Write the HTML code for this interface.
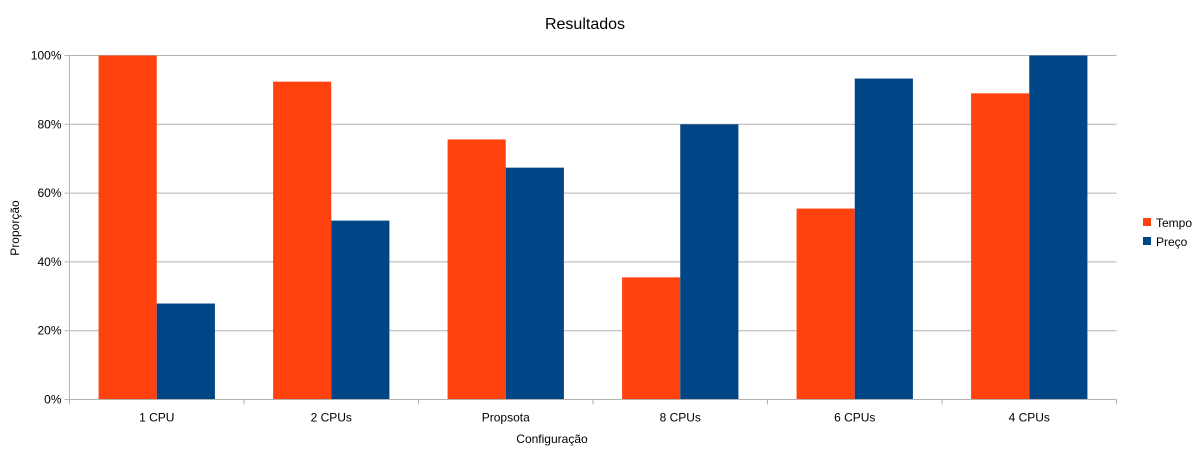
<!DOCTYPE html>
<html><head><meta charset="utf-8"><style>
body{margin:0;background:#fff;}
svg{display:block;font-family:"Liberation Sans",sans-serif;}
</style></head><body>
<svg id="chart" width="1202" height="464">
<text x="585" y="29" font-size="16" text-anchor="middle" fill="#000">Resultados</text>
<text x="552" y="443" font-size="12" text-anchor="middle">Configuração</text>
<text transform="translate(19,228) rotate(-90)" font-size="12" text-anchor="middle">Proporção</text>
<g id="grid"></g><g id="bars"></g><g id="axes"></g>
<g>
<rect x="1143" y="218" width="8" height="8" fill="#ff420e"/>
<text x="1156" y="227" font-size="12">Tempo</text>
<rect x="1143" y="237" width="8" height="8" fill="#004586"/>
<text x="1156" y="246" font-size="12">Preço</text>
</g>
</svg>
<script>
const categories=["1 CPU","2 CPUs","Propsota","8 CPUs","6 CPUs","4 CPUs"];
const tempo=[100,92.4,75.6,35.5,55.5,89.0];
const preco=[27.9,52.0,67.4,80.0,93.3,100];
const yTicks=[0,20,40,60,80,100];
const yTickLabels=["0%","20%","40%","60%","80%","100%"];
const NS="http://www.w3.org/2000/svg";
const L=69.5,R=1116.5,T=55.5,B=399.5;
const y=v=>B-(B-T)*v/100;
const band=(R-L)/categories.length;
const x=i=>L+band*i;
function mk(t,a,p){const e=document.createElementNS(NS,t);for(const k in a)e.setAttribute(k,a[k]);p.appendChild(e);return e;}
const grid=document.getElementById('grid'),bars=document.getElementById('bars'),axes=document.getElementById('axes');
yTicks.forEach((t,i)=>{
 const g=mk('line',{x1:L-5,x2:R,y1:y(t),y2:y(t),stroke:'#b3b3b3'},grid);
 
 
 const tx=mk('text',{x:L-8,y:y(t)+4,'font-size':12,'text-anchor':'end'},axes);
 tx.textContent=yTickLabels[i];
 
 
});
const bw=band/3;
categories.forEach((c,i)=>{
 const r1=mk('rect',{x:x(i)+band/6,y:y(tempo[i]),width:bw,height:B-y(tempo[i]),fill:'#ff420e'},bars);
 
 
 const r2=mk('rect',{x:x(i)+band/6+bw,y:y(preco[i]),width:bw,height:B-y(preco[i]),fill:'#004586'},bars);
 
 
 const tx=mk('text',{x:x(i)+band/2,y:B+22,'font-size':12,'text-anchor':'middle'},axes);
 tx.textContent=c;
 
 
 const tk=mk('line',{x1:x(i),x2:x(i),y1:B,y2:B+5,stroke:'#b3b3b3'},axes);
 
 
});
const tk=mk('line',{x1:R,x2:R,y1:B,y2:B+5,stroke:'#b3b3b3'},axes);


const ya=mk('line',{x1:L,x2:L,y1:T,y2:B+5,stroke:'#b3b3b3'},axes);


const xa=mk('line',{x1:L-5,x2:R,y1:B,y2:B,stroke:'#b3b3b3'},axes);


</script>
</body></html>
